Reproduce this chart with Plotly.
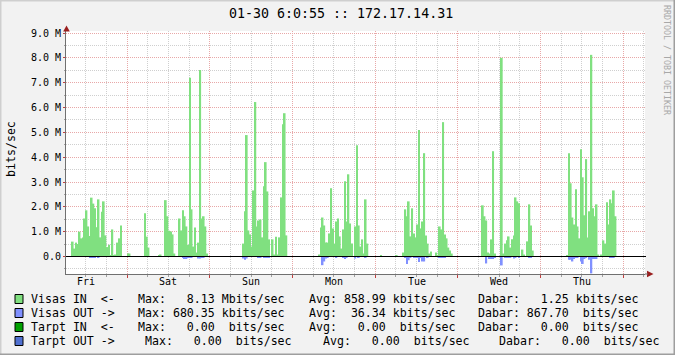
import pandas as pd
import plotly.graph_objects as go

# ---------------- data: Mbit/s, 30-minute consolidation ----------------
STEP = "30min"

fri_start = "2009-01-23 08:00"
fri_in = [0.6, 0.32, 0.56, 0.5, 1.0, 0.73, 0.77, 1.53, 1.86, 1.21, 0.83, 2.37, 2.13, 1.94, 1.18,
          2.3, 0.77, 1.8, 2.22, 0.85, 0.38, 0.47, 0.05, 1.09, 0.03, 0.08, 0.56, 0.73, 1.25]
fri_out = [0, 0, 0, 0, 0, 0, 0, 0, 0, 0, 0.04, 0.04, 0.04, 0.04, 0, 0.04, 0, 0, 0, 0,
           0, 0, 0, 0, 0, 0, 0.02, 0, 0.02]

sat_a_start = "2009-01-24 00:00"
sat_a_in = [0.12, 0.12]
sat_b_start = "2009-01-24 05:00"
sat_b_in = [1.74, 0.8, 0.36]
sat_c_start = "2009-01-24 09:00"
sat_c_in = [0.05, 0.08]

sat_start = "2009-01-24 11:00"
sat_in = [2.27, 1.62, 1.04, 1.01, 0.89, 0.12, 0, 0, 1.53, 1.05, 1.86, 1.62, 1.21, 0.47, 7.2,
          1.9, 0.4, 1.17, 0.16, 0.56, 7.51, 1.53, 1.62, 1.21, 0.12]
sat_out = [0, 0, 0, 0, 0, 0, 0, 0, 0, 0, 0.04, 0.1, 0.1, 0.05, 0.05, 0.04, 0, 0, 0, 0.08,
           0.08, 0.05, 0.05, 0, 0]

sun_start = "2009-01-25 09:30"
sun_in = [0.52, 1.82, 4.89, 1.05, 0.89, 0.4, 2.66, 6.22, 1.21, 1.45, 1.49, 0.77, 2.83, 3.8,
          2.62, 0.69, 0, 0.69, 0.08, 0.8, 0.08, 0.77, 2.38, 5.33, 5.77, 0.85]
sun_out = [0.08, 0.13, 0.08, 0, 0, 0, 0, 0, 0, 0.04, 0.04, 0, 0.04, 0.04, 0.04, 0.03, 0, 0,
           0, 0, 0, 0, 0, 0, 0, 0.02]

mon_start = "2009-01-26 07:30"
mon_in = [0.08, 1.17, 1.57, 1.25, 0.56, 0.56, 0.93, 2.75, 1.13, 0.52, 1.41, 1.53, 0.81, 0.32,
          1.09, 3.03, 1.41, 3.31, 1.33, 0.52, 0, 1.21, 4.48, 1.25, 0.4, 0.69, 0.12, 2.3, 0.52]
mon_out = [0, 0, 0.35, 0.2, 0.08, 0.04, 0, 0, 0, 0, 0.05, 0, 0, 0, 0.06, 0.1, 0.05, 0, 0, 0,
           0, 0.08, 0, 0.05, 0, 0, 0, 0.03, 0]

tue_a_start = "2009-01-27 01:30"
tue_a_in = [0.04]
tue_b_start = "2009-01-27 06:00"
tue_b_in = [0.04]

tue_start = "2009-01-27 08:00"
tue_in = [0.16, 1.9, 1.62, 2.22, 0.81, 1.94, 0.93, 0.77, 1.29, 5.09, 1.13, 1.41, 4.16, 0.85,
          0.52, 0.12, 0.2, 0, 0, 0.16, 0.04, 1.21, 1.09, 5.41, 0.89, 0.73, 0.36, 0.24, 0.12]
tue_out = [0, 0.05, 0.3, 0.15, 0.05, 0, 0.05, 0.04, 0.06, 0.22, 0.03, 0.2, 0.2, 0, 0.05, 0,
           0, 0, 0, 0, 0, 0.04, 0.06, 0.06, 0.05, 0, 0, 0, 0]

wed_start = "2009-01-28 07:00"
wed_in = [2.06, 1.62, 1.45, 0.16, 0.12, 0.69, 4.24, 0.12, 0, 0, 0, 8.0, 0.12, 0.52, 0.65,
          0.81, 0.36, 0.69, 0.85, 2.38, 2.22, 2.14, 0, 0.28, 0.08, 0, 0.61, 2.1, 1.25, 0.24]
wed_out = [0, 0, 0.28, 0, 0.1, 0.1, 0.1, 0.03, 0, 0, 0, 0.36, 0, 0.05, 0.03, 0.05, 0.04, 0,
           0.08, 0.06, 0, 0.05, 0, 0, 0, 0, 0, 0.05, 0.05, 0]

thu_start = "2009-01-29 07:30"
thu_in = [0.04, 4.16, 2.95, 1.57, 1.29, 2.71, 1.21, 0.73, 4.32, 3.19, 1.66, 3.92, 0.77, 1.82,
          8.12, 1.94, 1.62, 2.1, 0.08, 0, 0.08, 0.65, 0.52, 2.18, 1.29, 2.3, 2.14, 2.66, 1.62]
thu_out = [0, 0.13, 0.13, 0.2, 0.1, 0.05, 0.05, 0, 0.2, 0.3, 0.1, 0.05, 0.02, 0.13, 0.68,
           0.1, 0.1, 0.1, 0, 0, 0, 0, 0, 0, 0, 0.05, 0.05, 0.05, 0]

x_range = ["2009-01-23 06:18", "2009-01-30 06:18"]
day_label_times = ["2009-01-23 12:00", "2009-01-24 12:00", "2009-01-25 12:00", "2009-01-26 12:00",
                   "2009-01-27 12:00", "2009-01-28 12:00", "2009-01-29 12:00"]

y_tick_vals = [0, 1, 2, 3, 4, 5, 6, 7, 8, 9]
y_tick_text = ["0.0", "1.0 M", "2.0 M", "3.0 M", "4.0 M", "5.0 M", "6.0 M", "7.0 M", "8.0 M", "9.0 M"]

title_text = "01-30 6:0:55 :: 172.17.14.31"
y_title = "bits/sec"
watermark = "RRDTOOL / TOBI OETIKER"

legend_names = ["Visas IN  <-", "Visas OUT ->", "Tarpt IN  <-", "Tarpt OUT ->"]
legend_max = ["Max:   8.13 Mbits/sec", "Max: 680.35 kbits/sec", "Max:   0.00  bits/sec", "Max:   0.00  bits/sec"]
legend_avg = ["Avg: 858.99 kbits/sec", "Avg:  36.34 kbits/sec", "Avg:   0.00  bits/sec", "Avg:   0.00  bits/sec"]
legend_cur = ["Dabar:   1.25 kbits/sec", "Dabar: 867.70  bits/sec", "Dabar:   0.00  bits/sec", "Dabar:   0.00  bits/sec"]

# ---------------- styling ----------------
C_IN = "#80E080"
C_OUT = "#8090FF"
C_TIN = "#00A000"
C_TOUT = "#5070D0"
legend_colors = [C_IN, C_OUT, C_TIN, C_TOUT]
MONO = "DejaVu Sans Mono"
MAJ = "#E8A8A8"
MIN = "#CFCFCF"
AX = "#707070"
ARROW = "#9A1F1F"

W, H = 675, 355
L, R, T, B = 66, 30, 31, 81
PW, PH = W - L - R, H - T - B


def px(x):
    return (x - L) / PW


def py(y):
    return (H - B - y) / PH


in_bursts = [(fri_start, fri_in), (sat_a_start, sat_a_in), (sat_b_start, sat_b_in),
             (sat_c_start, sat_c_in), (sat_start, sat_in), (sun_start, sun_in),
             (mon_start, mon_in), (tue_a_start, tue_a_in), (tue_b_start, tue_b_in),
             (tue_start, tue_in), (wed_start, wed_in), (thu_start, thu_in)]
out_bursts = [(fri_start, fri_out), (sat_start, sat_out), (sun_start, sun_out),
              (mon_start, mon_out), (tue_start, tue_out), (wed_start, wed_out),
              (thu_start, thu_out)]


def series(bursts, sign):
    xs, ys = [], []
    for start, vals in bursts:
        xs.extend(pd.date_range(start, periods=len(vals), freq=STEP))
        ys.extend([sign * v for v in vals])
    return xs, ys


step_ms = pd.Timedelta(STEP).total_seconds() * 1000
xi, yi = series(in_bursts, 1)
xo, yo = series(out_bursts, -1)

fig = go.Figure()
fig.add_trace(go.Bar(x=xi, y=yi, width=step_ms, offset=0, marker=dict(color=C_IN, line=dict(width=0)),
                     name="Visas IN"))
fig.add_trace(go.Bar(x=xo, y=yo, width=step_ms, offset=0, marker=dict(color=C_OUT, line=dict(width=0)),
                     name="Visas OUT"))

fig.update_layout(
    width=W, height=H, margin=dict(l=L, r=R, t=T, b=B, pad=0),
    paper_bgcolor="#F2F2F2", plot_bgcolor="#FFFFFF",
    barmode="overlay", showlegend=False,
    font=dict(family=MONO, size=10, color="black"),
)
fig.update_xaxes(
    type="date", range=x_range, tickmode="linear", tick0="2009-01-24", dtick=86400000,
    showticklabels=False,
    showgrid=True, gridcolor=MAJ, griddash="1px,1px", gridwidth=1,
    ticks="outside", ticklen=3, tickcolor="#C04040",
    showline=True, linecolor=AX, linewidth=1, zeroline=False,
    minor=dict(tickmode="linear", tick0="2009-01-24", dtick=21600000, showgrid=True,
               gridcolor=MIN, griddash="1px,1px", ticks="outside", ticklen=2, tickcolor="#A0A0A0"),
    fixedrange=True,
)
fig.update_yaxes(
    range=[-0.7046, 9.0805], tickmode="array", tickvals=y_tick_vals, ticktext=y_tick_text,
    showgrid=True, gridcolor=MAJ, griddash="1px,1px", gridwidth=1,
    ticks="outside", ticklen=2, tickcolor="#C04040",
    showline=True, linecolor=AX, linewidth=1, zeroline=False,
    tickfont=dict(family=MONO, size=10, color="black"),
    minor=dict(tickmode="linear", tick0=0, dtick=0.5, showgrid=True, gridcolor=MIN,
               griddash="1px,1px", ticks="outside", ticklen=1, tickcolor="#A0A0A0"),
    fixedrange=True,
)

shapes = []
# zero line
shapes.append(dict(type="line", xref="paper", yref="y", x0=0, x1=px(646), y0=0, y1=0,
                   line=dict(color="black", width=1.2), layer="above"))
# arrows
shapes.append(dict(type="path", xref="paper", yref="paper",
                   path=f"M {px(66.5)},{py(25.5)} L {px(63.2)},{py(31.5)} L {px(69.8)},{py(31.5)} Z",
                   fillcolor=ARROW, line=dict(width=0), layer="above"))
shapes.append(dict(type="path", xref="paper", yref="paper",
                   path=f"M {px(653.5)},{py(274)} L {px(647)},{py(270.7)} L {px(647)},{py(277.3)} Z",
                   fillcolor=ARROW, line=dict(width=0), layer="above"))
shapes.append(dict(type="line", xref="paper", yref="paper", x0=1, x1=px(648), y0=0, y1=0,
                   line=dict(color=AX, width=1)))
# image border
shapes.append(dict(type="line", xref="paper", yref="paper", x0=px(0), x1=px(675), y0=py(0.5), y1=py(0.5),
                   line=dict(color="#CFCFCF", width=2)))
shapes.append(dict(type="line", xref="paper", yref="paper", x0=px(0.5), x1=px(0.5), y0=py(0), y1=py(355),
                   line=dict(color="#CFCFCF", width=2)))
shapes.append(dict(type="line", xref="paper", yref="paper", x0=px(0), x1=px(675), y0=py(354.5), y1=py(354.5),
                   line=dict(color="#9E9E9E", width=2)))
shapes.append(dict(type="line", xref="paper", yref="paper", x0=px(674.5), x1=px(674.5), y0=py(0), y1=py(355),
                   line=dict(color="#9E9E9E", width=2)))

annotations = []
# day labels, centred on each day's noon
for t in day_label_times:
    annotations.append(dict(text=pd.Timestamp(t).strftime("%a"), xref="x", yref="paper", x=t, y=py(281.5),
                            xanchor="center", yanchor="middle", showarrow=False,
                            font=dict(family=MONO, size=10, color="black")))
annotations.append(dict(text=title_text, xref="paper", yref="paper", x=px(341), y=py(14),
                        xanchor="center", yanchor="middle", showarrow=False,
                        font=dict(family=MONO, size=13.3, color="black")))
annotations.append(dict(text=y_title, xref="paper", yref="paper", x=px(11), y=py(149),
                        xanchor="center", yanchor="middle", showarrow=False, textangle=-90,
                        font=dict(family=MONO, size=11.6, color="black")))
annotations.append(dict(text=watermark, xref="paper", yref="paper", x=px(667), y=py(60),
                        xanchor="center", yanchor="middle", showarrow=False, textangle=90,
                        font=dict(family=MONO, size=8.3, color="#A8A8A8")))

row_y = [299, 313, 327, 341]
col_x = [[30, 137.7, 308, 477], [30, 137.7, 308, 477], [30, 137.7, 308, 477], [30, 144, 322, 498.5]]
for i in range(4):
    cy = row_y[i]
    shapes.append(dict(type="rect", xref="paper", yref="paper", x0=px(15), x1=px(23),
                       y0=py(cy - 4.5), y1=py(cy + 4.5), fillcolor=legend_colors[i],
                       line=dict(color="black", width=1)))
    for j, txt in enumerate([legend_names[i], legend_max[i], legend_avg[i], legend_cur[i]]):
        annotations.append(dict(text=txt.replace(" ", "&nbsp;"), xref="paper", yref="paper",
                                x=px(col_x[i][j] - 1.5), y=py(cy), xanchor="left", yanchor="middle",
                                showarrow=False, font=dict(family=MONO, size=11.6, color="black")))

fig.update_layout(shapes=shapes, annotations=annotations)
fig.write_html("out.html")
